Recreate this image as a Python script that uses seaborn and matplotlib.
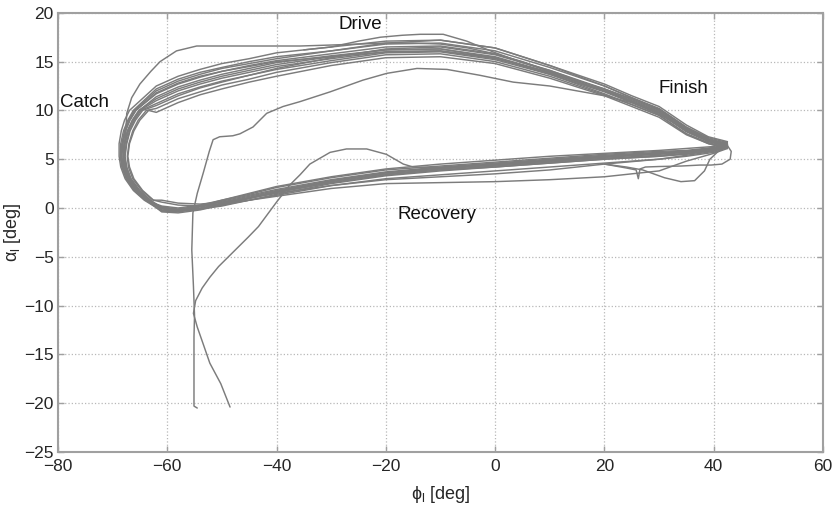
# Oar angle loops: blade angle alpha_l vs oar sweep phi_l
import matplotlib
matplotlib.use("Agg")
import matplotlib.pyplot as plt
import seaborn as sns

# ---- data ----------------------------------------------------------------
# shared sweep positions for the drive (top) and recovery (bottom) parts
drive_x = [-62, -58, -54, -50, -45, -40, -30, -20, -10, 0, 10, 20, 25, 30, 35, 39, 42.5]
recov_x = [42.5, 40, 35, 30, 20, 10, 0, -10, -20, -30, -40, -45, -50, -54, -58, -61]
# blade angle levels through the catch turn (bottom -> top)
catch_y = [0.8, 1.8, 3.0, 4.2, 5.3, 6.6, 7.9, 9.0, 10.0]

drive_y = [
    [11.2, 12.2, 12.9, 13.5, 14.1, 14.7, 15.5, 16.2, 16.3, 15.5, 13.9, 12.0, 10.9, 9.8, 7.9, 6.9, 6.4],
    [12.2, 13.2, 13.9, 14.4, 15.0, 15.5, 16.1, 16.8, 16.9, 16.1, 14.4, 12.5, 11.3, 10.2, 8.3, 7.2, 6.7],
    [10.2, 11.2, 11.9, 12.6, 13.2, 13.9, 14.9, 15.7, 15.8, 15.0, 13.5, 11.6, 10.6, 9.5, 7.6, 6.7, 6.2],
    [11.7, 12.7, 13.4, 14.0, 14.6, 15.1, 15.8, 16.5, 16.6, 15.8, 14.1, 12.2, 11.1, 10.0, 8.1, 7.0, 6.5],
    [10.7, 11.7, 12.4, 13.0, 13.6, 14.2, 15.1, 15.9, 16.0, 15.2, 13.7, 11.9, 10.8, 9.7, 7.8, 6.8, 6.3],
    [12.5, 13.5, 14.2, 14.8, 15.3, 15.9, 16.5, 17.1, 17.2, 16.4, 14.6, 12.7, 11.5, 10.4, 8.5, 7.3, 6.8],
    [11.4, 12.4, 13.1, 13.7, 14.3, 14.9, 15.6, 16.2, 16.3, 15.4, 13.7, 11.7, 10.6, 9.5, 7.6, 6.6, 6.1],
    [9.8, 10.8, 11.6, 12.2, 12.9, 13.5, 14.6, 15.4, 15.5, 14.8, 13.3, 11.5, 10.4, 9.3, 7.5, 6.6, 6.1],
    [12.0, 13.0, 13.7, 14.3, 14.8, 15.3, 16.1, 16.9, 17.2, 16.4, 14.6, 12.5, 11.3, 10.1, 8.2, 7.1, 6.6],
    [11.0, 12.0, 12.7, 13.3, 13.9, 14.5, 15.3, 16.0, 16.1, 15.3, 13.9, 12.2, 11.2, 10.1, 8.2, 7.0, 6.5],
    [11.8, 12.8, 13.5, 14.0, 14.5, 15.0, 15.5, 16.0, 16.1, 15.4, 13.8, 12.0, 10.9, 9.8, 7.9, 6.9, 6.4],
    [10.5, 11.5, 12.3, 12.9, 13.6, 14.3, 15.4, 16.3, 16.5, 15.7, 14.1, 12.1, 11.0, 9.9, 8.0, 7.0, 6.5],
]
recov_y = [
    [6.4, 6.0, 5.7, 5.5, 5.2, 4.8, 4.4, 4.0, 3.5, 2.7, 1.7, 1.1, 0.5, 0.1, -0.2, 0.0],
    [6.6, 6.2, 5.9, 5.8, 5.5, 5.1, 4.7, 4.3, 3.9, 3.1, 2.1, 1.4, 0.8, 0.3, 0.0, 0.2],
    [6.2, 5.7, 5.3, 5.0, 4.6, 4.2, 3.8, 3.4, 3.0, 2.3, 1.5, 1.0, 0.6, 0.4, 0.5, 0.8],
    [6.5, 6.1, 5.8, 5.6, 5.3, 4.9, 4.5, 4.1, 3.6, 2.8, 1.7, 1.0, 0.3, -0.2, -0.5, -0.4],
    [6.3, 5.9, 5.5, 5.3, 5.0, 4.6, 4.2, 3.8, 3.3, 2.5, 1.4, 0.8, 0.2, -0.1, -0.3, -0.1],
    [6.8, 6.3, 6.1, 5.9, 5.6, 5.3, 4.9, 4.5, 4.0, 3.2, 2.2, 1.5, 0.8, 0.2, -0.3, -0.3],
    [6.3, 5.9, 5.6, 5.4, 5.1, 4.7, 4.3, 3.9, 3.4, 2.6, 1.6, 1.0, 0.4, 0.0, -0.2, 0.1],
    [6.1, 5.6, 4.8, 3.8, 3.2, 2.9, 2.7, 2.6, 2.5, 2.0, 1.2, 0.8, 0.4, 0.2, 0.3, 0.6],
    [6.5, 6.1, 5.8, 5.6, 5.3, 4.9, 4.5, 4.1, 3.6, 2.8, 1.8, 1.2, 0.6, 0.2, -0.1, 0.1],
    [6.4, 5.9, 5.6, 5.3, 5.0, 4.6, 4.2, 3.9, 3.4, 2.6, 1.6, 1.0, 0.4, -0.1, -0.3, -0.2],
    [6.3, 5.8, 5.4, 5.0, 4.5, 3.9, 3.5, 3.2, 2.9, 2.3, 1.3, 0.8, 0.3, -0.1, -0.4, -0.3],
    [6.5, 6.1, 5.8, 5.7, 5.4, 5.0, 4.6, 4.2, 3.7, 2.9, 1.9, 1.3, 0.7, 0.2, -0.2, 0.0],
]
catch_x = [
    [-63.5, -65.5, -67.0, -67.8, -68.1, -67.9, -67.3, -66.4, -65.2],
    [-64.0, -66.0, -67.5, -68.3, -68.6, -68.5, -68.0, -67.2, -66.2],
    [-62.6, -64.7, -66.3, -67.1, -67.3, -67.0, -66.3, -65.3, -63.8],
    [-63.8, -65.8, -67.3, -68.1, -68.4, -68.2, -67.7, -66.9, -65.8],
    [-63.2, -65.2, -66.7, -67.5, -67.8, -67.5, -66.9, -66.0, -64.8],
    [-64.2, -66.2, -67.7, -68.5, -68.8, -68.8, -68.4, -67.8, -66.9],
    [-63.4, -65.4, -66.9, -67.7, -68.0, -67.8, -67.2, -66.3, -65.1],
    [-62.5, -64.5, -66.1, -66.9, -67.2, -66.9, -66.1, -65.0, -63.4],
    [-63.9, -65.9, -67.4, -68.2, -68.5, -68.3, -67.8, -67.0, -66.0],
    [-63.3, -65.3, -66.8, -67.6, -67.9, -67.7, -67.1, -66.2, -65.0],
    [-63.7, -65.7, -67.2, -68.0, -68.3, -68.1, -67.6, -66.8, -65.7],
    [-63.0, -65.0, -66.6, -67.4, -67.7, -67.4, -66.8, -65.8, -64.5],
]

# start-up strokes coming up from below
start1_x = [-54.5, -55.1, -55.1, -55.1, -55.0, -55.2, -55.5, -55.3, -54.5, -53.4, -52.3, -51.6, -50.4,
            -48.0, -46.7, -44.3, -41.8, -38.8, -35.7, -30.2, -24.2, -19.8, -14.3, -8.8, -2.8, 3.3,
            10, 20, 25, 30, 36, 40, 42.5]
start1_y = [-20.5, -20.3, -16.0, -13.2, -11.0, -8.0, -4.3, -0.5, 1.5, 3.6, 5.8, 7.0, 7.3,
            7.4, 7.6, 8.3, 9.7, 10.4, 10.9, 11.9, 13.1, 13.8, 14.3, 14.2, 13.6, 12.9,
            12.5, 11.5, 10.8, 9.6, 7.7, 6.7, 6.3]
start2_x = [-48.5, -50.2, -52.2, -53.5, -54.5, -55.2, -54.8, -53.6, -52.2, -50.6, -48.8, -47.0, -45.2,
            -43.3, -40.0, -37.5, -35.7, -33.9, -30.2, -27.2, -23.5, -19.9, -16.8, -15.0,
            -10, 0, 10, 20, 30, 38, 42.5]
start2_y = [-20.4, -18.0, -15.9, -13.8, -12.2, -10.8, -9.5, -8.2, -7.1, -6.0, -5.0, -4.0, -3.0,
            -1.9, 0.6, 2.4, 3.4, 4.5, 5.7, 6.05, 6.05, 5.5, 4.5, 4.2,
            4.1, 4.4, 4.8, 5.2, 5.6, 6.0, 6.4]

# odd strokes: wide catch, high drive, dips near the finish
wide_x = [-63.0, -65.5, -67.2, -68.0, -68.0, -67.6, -67.4, -66.5, -65.0, -63.0, -61.3, -58.3, -54.6,
          -45, -35.7, -30, -25, -20, -15, -10, -5, 0, 5, 10]
wide_y = [0.5, 1.6, 3.0, 4.5, 6.0, 7.5, 9.7, 11.3, 12.7, 14.0, 15.0, 16.1, 16.6,
          16.6, 16.6, 16.7, 16.8, 16.9, 16.9, 16.8, 16.4, 15.8, 15.0, 14.0]
high_x = [-35, -30, -25, -21, -17, -13.7, -9.5, -5.2, -0.4, 5, 10, 15]
high_y = [16.2, 16.5, 17.1, 17.5, 17.7, 17.8, 17.8, 17.1, 16.0, 14.9, 14.0, 13.0]
dip_x = [20, 24, 27, 31, 34, 36.5, 38.3, 39.3, 41, 42.5]
dip_y = [4.5, 4.2, 3.9, 3.1, 2.7, 2.8, 3.8, 5.0, 5.9, 6.4]
tail_x = [42.5, 43.2, 43.0, 41.5, 39.5, 37.5, 34, 30, 27.5, 26.5, 26.2, 25.8, 24, 20]
tail_y = [6.4, 5.8, 5.0, 4.5, 4.4, 4.4, 4.3, 4.25, 4.2, 4.0, 3.0, 3.9, 4.1, 4.5]

phase_labels = ["Catch", "Drive", "Finish", "Recovery"]
phase_x = [-79.6, -24.7, 34.5, -10.6]
phase_y = [10.3, 18.3, 11.8, -1.1]

# ---- style ------------------------------------------------------------------
sns.set_style("whitegrid", {
    "grid.color": "#b8b8b8",
    "grid.linestyle": ":",
    "axes.edgecolor": "#a0a0a0",
    "xtick.direction": "in",
    "ytick.direction": "in",
})
plt.rcParams["font.family"] = ["Liberation Sans", "DejaVu Sans"]
plt.rcParams["mathtext.fontset"] = "custom"
plt.rcParams["mathtext.rm"] = "Liberation Sans"
plt.rcParams["mathtext.it"] = "Liberation Sans"

line_col = "#7c7c7c"
fig, ax = plt.subplots(figsize=(8.39, 5.13), dpi=100)
fig.subplots_adjust(left=0.069, right=0.981, top=0.975, bottom=0.119)

for dy, ry, cx in zip(drive_y, recov_y, catch_x):
    xs = recov_x + cx + drive_x
    ys = ry + catch_y + dy
    sns.lineplot(x=xs, y=ys, sort=False, estimator=None, color=line_col, lw=1.05, ax=ax)

for xs, ys in [(start1_x, start1_y), (start2_x, start2_y), (wide_x, wide_y),
               (high_x, high_y), (dip_x, dip_y), (tail_x, tail_y)]:
    sns.lineplot(x=xs, y=ys, sort=False, estimator=None, color=line_col, lw=1.05, ax=ax)

for lab, tx, ty in zip(phase_labels, phase_x, phase_y):
    ha = "left" if lab == "Catch" else "center"
    ax.text(tx, ty, lab, fontsize=13.5, ha=ha, va="baseline", color="#111111")

ax.set_xlim(-80, 60)
ax.set_ylim(-25, 20)
ax.set_xticks(range(-80, 61, 20))
ax.set_yticks(range(-25, 21, 5))
ax.tick_params(axis="both", labelsize=12.5, length=4, width=1, color="#a0a0a0",
               top=True, right=True, bottom=True, left=True)
ax.tick_params(axis="x", pad=5)
ax.tick_params(axis="y", pad=3)
ax.set_xlabel(r"$\mathregular{\phi_l}$ [deg]", fontsize=13, labelpad=7)
ax.set_ylabel(r"$\mathregular{\alpha_l}$ [deg]", fontsize=13, labelpad=1)
for sp in ax.spines.values():
    sp.set_linewidth(1.5)
ax.grid(True, lw=0.9)

fig.savefig("out.png", dpi=100)
